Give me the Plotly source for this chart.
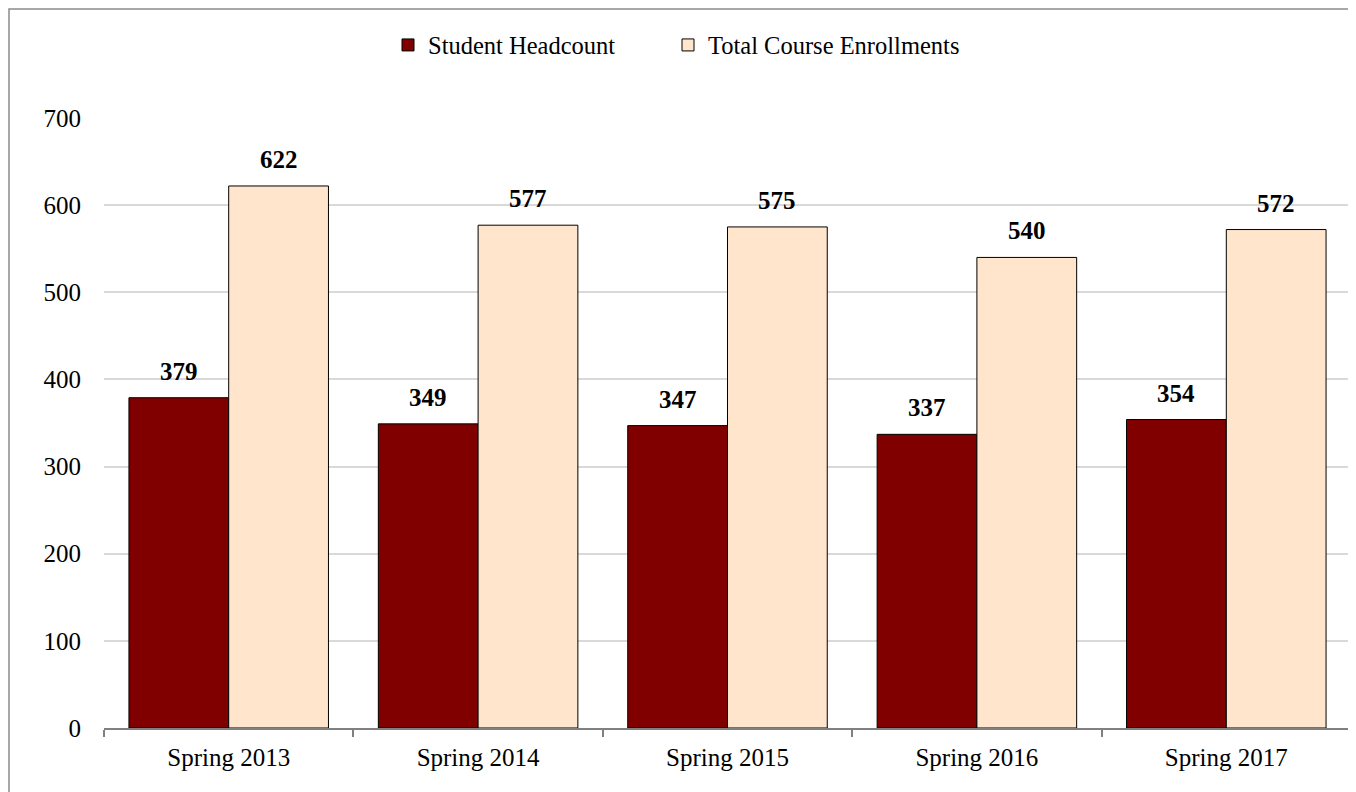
import plotly.graph_objects as go

categories = ["Spring 2013", "Spring 2014", "Spring 2015", "Spring 2016", "Spring 2017"]
headcount = [379, 349, 347, 337, 354]
enrollments = [622, 577, 575, 540, 572]
y_ticks = [0, 100, 200, 300, 400, 500, 600, 700]

FONT = "Liberation Serif, Times New Roman, serif"
# page body adds an 8px offset; figure sized to fit the 1356x792 window
OFF = 8
W, H = 1356 - OFF, 792 - OFF
L, T = 104 - OFF, 118 - OFF
R = W - (1351 - OFF)
B = H - (728 - OFF)
pw = W - L - R
ph = H - T - B

fig = go.Figure()
fig.add_trace(go.Bar(name="Student Headcount", x=categories, y=headcount, legend="legend",
                     marker=dict(color="#800000", line=dict(color="#000000", width=1))))
fig.add_trace(go.Bar(name="Total Course Enrollments", x=categories, y=enrollments, legend="legend2",
                     marker=dict(color="#FFE5CC", line=dict(color="#000000", width=1))))

# data labels above bars
bar_w = pw / len(categories) * 0.8 / 2
for vals, sh in ((headcount, -bar_w / 2), (enrollments, bar_w / 2)):
    for c, v in zip(categories, vals):
        fig.add_annotation(x=c, y=v, text=f"<b>{v}</b>", showarrow=False,
                           xshift=sh, yshift=11, yanchor="bottom", xanchor="center",
                           font=dict(family=FONT, size=25, color="#000000"))

# outer chart border
fig.add_shape(type="rect", xref="paper", yref="paper",
              x0=(1 - L) / pw, x1=(1343 - L) / pw,
              y0=-(B + 30) / ph, y1=(ph + T - 1) / ph,
              line=dict(color="#8c8c8c", width=1.5), fillcolor="rgba(0,0,0,0)", layer="below")

legend_common = dict(orientation="h", xref="container", yref="container",
                     xanchor="left", y=1 - (45 - OFF) / H, yanchor="middle",
                     font=dict(family=FONT, size=24.5, color="#000000"),
                     itemwidth=30, bgcolor="rgba(0,0,0,0)")

fig.update_layout(
    width=W, height=H,
    margin=dict(l=L, r=R, t=T, b=B, autoexpand=False),
    paper_bgcolor="white", plot_bgcolor="white",
    barmode="group", bargap=0.2, bargroupgap=0,
    font=dict(family=FONT, size=25, color="#000000"),
    showlegend=True,
    legend=dict(x=(388 - OFF) / W, **legend_common),
    legend2=dict(x=(668 - OFF) / W, **legend_common),
    xaxis=dict(showline=True, linecolor="#808080", linewidth=1.5,
               ticks="outside", tickson="boundaries", ticklen=7, tickcolor="#808080",
               tickwidth=1.5, ticklabelstandoff=6,
               tickfont=dict(family=FONT, size=25, color="#000000"),
               showgrid=False),
    yaxis=dict(range=[0, 700], tickvals=y_ticks, showline=False,
               showgrid=True, gridcolor="#d9d9d9", gridwidth=1.5,
               zeroline=False, ticks="", ticklabelstandoff=22,
               tickfont=dict(family=FONT, size=25, color="#000000")),
)

fig.write_html("out.html")
